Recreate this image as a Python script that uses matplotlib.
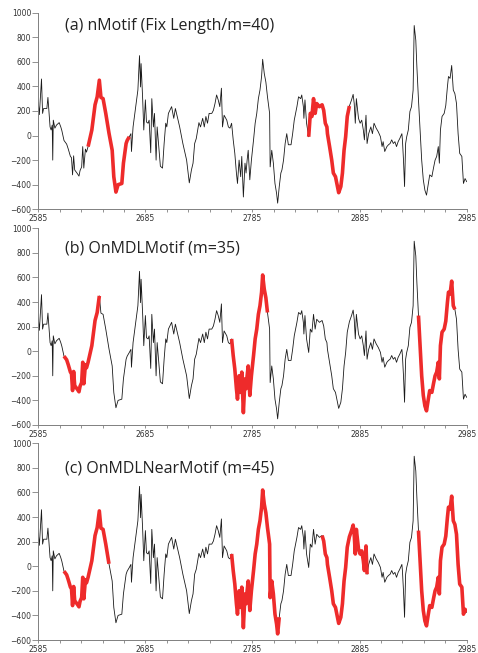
import numpy as np
import matplotlib
matplotlib.use('Agg')
from matplotlib import pyplot as plt

# series (time, value)
time = [2585, 2586, 2588, 2589, 2590, 2593, 2594, 2596, 2597, 2598,
        2598.5, 2599, 2600.5, 2602, 2604.5, 2606, 2607, 2609, 2611.5, 2613,
        2615, 2616, 2617, 2618, 2619, 2621.5, 2623, 2624, 2625.5, 2626.5,
        2627.5, 2629, 2630, 2631.5, 2635, 2638, 2640, 2642, 2643.5, 2645.5,
        2648, 2651, 2654, 2655.5, 2657.5, 2659.5, 2663, 2664.5, 2667, 2668,
        2670, 2671.5, 2672, 2673.5, 2676, 2678, 2679.5, 2680.5, 2681, 2682.5,
        2683.5, 2685, 2686, 2687.5, 2688.5, 2690, 2691, 2692.5, 2693.5, 2695,
        2696, 2697.5, 2699, 2701, 2702.5, 2704, 2705, 2706.5, 2709.5, 2711.5,
        2713, 2714.5, 2717, 2720, 2723.5, 2726, 2728, 2729.5, 2731, 2732.5,
        2735, 2736.5, 2738.5, 2740, 2741.5, 2743, 2744.5, 2747, 2748.5, 2750,
        2751.5, 2753, 2754.5, 2756, 2757, 2758.5, 2761, 2762.5, 2764, 2765.5,
        2767, 2768.5, 2770, 2771, 2772.5, 2774, 2775, 2776.5, 2778, 2779,
        2780, 2781, 2782.5, 2784, 2786, 2787.5, 2789, 2790.5, 2792, 2793.5,
        2794.5, 2796, 2797.5, 2799, 2801, 2801.5, 2803, 2804.5, 2806, 2807.5,
        2808.5, 2810, 2811.5, 2812.5, 2814, 2815.5, 2817, 2818.5, 2821, 2822.5,
        2824, 2826.5, 2828, 2830, 2831, 2832.5, 2833, 2834, 2835.5, 2837.5,
        2839, 2840.5, 2842, 2843.5, 2845, 2847.5, 2850, 2851.5, 2853, 2854.5,
        2855, 2857, 2859, 2860.5, 2862.5, 2864, 2865.5, 2867.5, 2869, 2870.5,
        2872, 2873.5, 2875.5, 2877.5, 2879, 2880, 2881, 2882, 2884, 2885.5,
        2887, 2888.5, 2889.5, 2891, 2892, 2893.5, 2895.5, 2897, 2898.5, 2900.5,
        2902.5, 2904.5, 2906, 2907, 2908.5, 2910.5, 2912, 2913.5, 2915, 2916.5,
        2918, 2919.5, 2921, 2922.5, 2924.5, 2925, 2926, 2927, 2928, 2929,
        2930.5, 2932, 2933.5, 2935, 2936, 2937.5, 2938.5, 2940, 2941.5, 2943,
        2944.5, 2946, 2947.5, 2949, 2950.5, 2952.5, 2954, 2955.5, 2957, 2958.5,
        2959.5, 2960.5, 2962, 2964, 2965.5, 2967, 2968, 2969.5, 2971, 2972.5,
        2974, 2975.5, 2977, 2978.5, 2980.5, 2982, 2983.5, 2985]
value = [270, 170, 460, 180, 220, 220, 310, 70, 45, 85,
         -200, 125, 60, 85, 105, 70, 40, -40, -70, -110,
         -170, -180, -320, -165, -280, -310, -330, -285, -255, -90,
         -265, -110, -135, -90, 45, 250, 315, 450, 310, 300,
         180, 20, -120, -335, -460, -400, -390, -225, -65, -40,
         -10, 15, -130, 70, 235, 370, 650, 395, 585, 290,
         45, 290, 110, 100, 125, -140, 300, 70, 180, -200,
         70, -90, -250, -265, -65, 100, 70, 180, 235, 140,
         220, 165, 70, -65, -200, -385, -280, -225, -65, -25,
         105, 70, 140, 70, 155, 100, 180, 180, 205, 260,
         330, 290, 235, 385, 70, 165, 125, 70, 60, 100,
         -35, -145, -305, -390, -200, -335, -170, -500, -225, -305,
         -200, -120, -360, -200, -35, 100, 180, 300, 370, 480,
         620, 505, 435, 315, 180, -255, -120, -225, -390, -470,
         -550, -415, -305, -280, -200, -65, 15, -75, -75, 15,
         125, 235, 315, 300, 330, 235, 140, 290, 100, -10,
         180, 155, 300, 180, 260, 235, 250, 205, 100, 70,
         15, -90, -200, -305, -335, -400, -465, -415, -305, -120,
         -10, 155, 240, 290, 335, 260, 100, 300, 140, 100,
         125, 45, -35, 165, -65, 15, 70, 15, 100, 60,
         30, -10, -90, -50, -130, -90, -75, -65, -35, -65,
         -50, -90, -50, -25, 15, -35, -200, -415, -65, -10,
         45, 195, 235, 370, 895, 775, 560, 290, 45, -200,
         -360, -445, -485, -400, -320, -335, -265, -200, -170, -90,
         -225, 45, 155, 180, 245, 395, 480, 465, 570, 370,
         340, 260, 15, -145, -170, -390, -350, -375]

titles = ['(a) nMotif (Fix Length/m=40)',
          '(b) OnMDLMotif (m=35)',
          '(c) OnMDLNearMotif (m=45)']
motif_len = [40, 35, 45]
motif_starts = [[2631, 2836],
                [2608, 2765, 2939],
                [2608, 2765, 2848, 2940]]

t = np.array(time)
v = np.array(value)

fig = plt.figure(figsize=(4.78, 6.53), dpi=100)
bottoms = [0.6795, 0.3492, 0.0199]
title_y = [0.93, 0.895, 0.87]
tick_font = ['Liberation Sans Narrow', 'DejaVu Sans']

for i in range(3):
    ax = fig.add_axes([0.0801, bottoms[i], 0.8962, 0.3012])
    ax.plot(t, v, color='#1a1a1a', lw=0.6)
    for s in motif_starts[i]:
        sel = (t >= s) & (t <= s + motif_len[i])
        ax.plot(t[sel], v[sel], color='#ee2b2b', lw=2.6, solid_capstyle='butt')
    ax.set_xlim(2585, 2985)
    ax.set_ylim(-600, 1000)
    ax.set_xticks(np.arange(2585, 2986, 100))
    ax.set_xticks(np.arange(2585, 2986, 20), minor=True)
    ax.set_yticks(np.arange(-600, 1001, 200))
    for side in ['top', 'right']:
        ax.spines[side].set_visible(False)
    for side in ['left', 'bottom']:
        ax.spines[side].set_color('#808080')
        ax.spines[side].set_linewidth(0.7)
    ax.tick_params(axis='both', which='both', color='#808080', width=0.6,
                   labelsize=5.5, labelcolor='#333333', pad=1)
    ax.tick_params(axis='y', length=4)
    ax.tick_params(axis='x', which='both', length=2.5)
    for lab in ax.get_xticklabels() + ax.get_yticklabels():
        lab.set_family(tick_font)
    ax.text(0.062, title_y[i], titles[i], transform=ax.transAxes,
            fontsize=11.5, family=['Open Sans', 'DejaVu Sans'],
            color='#222222', va='center', ha='left')

plt.savefig('out.png', dpi=100)
